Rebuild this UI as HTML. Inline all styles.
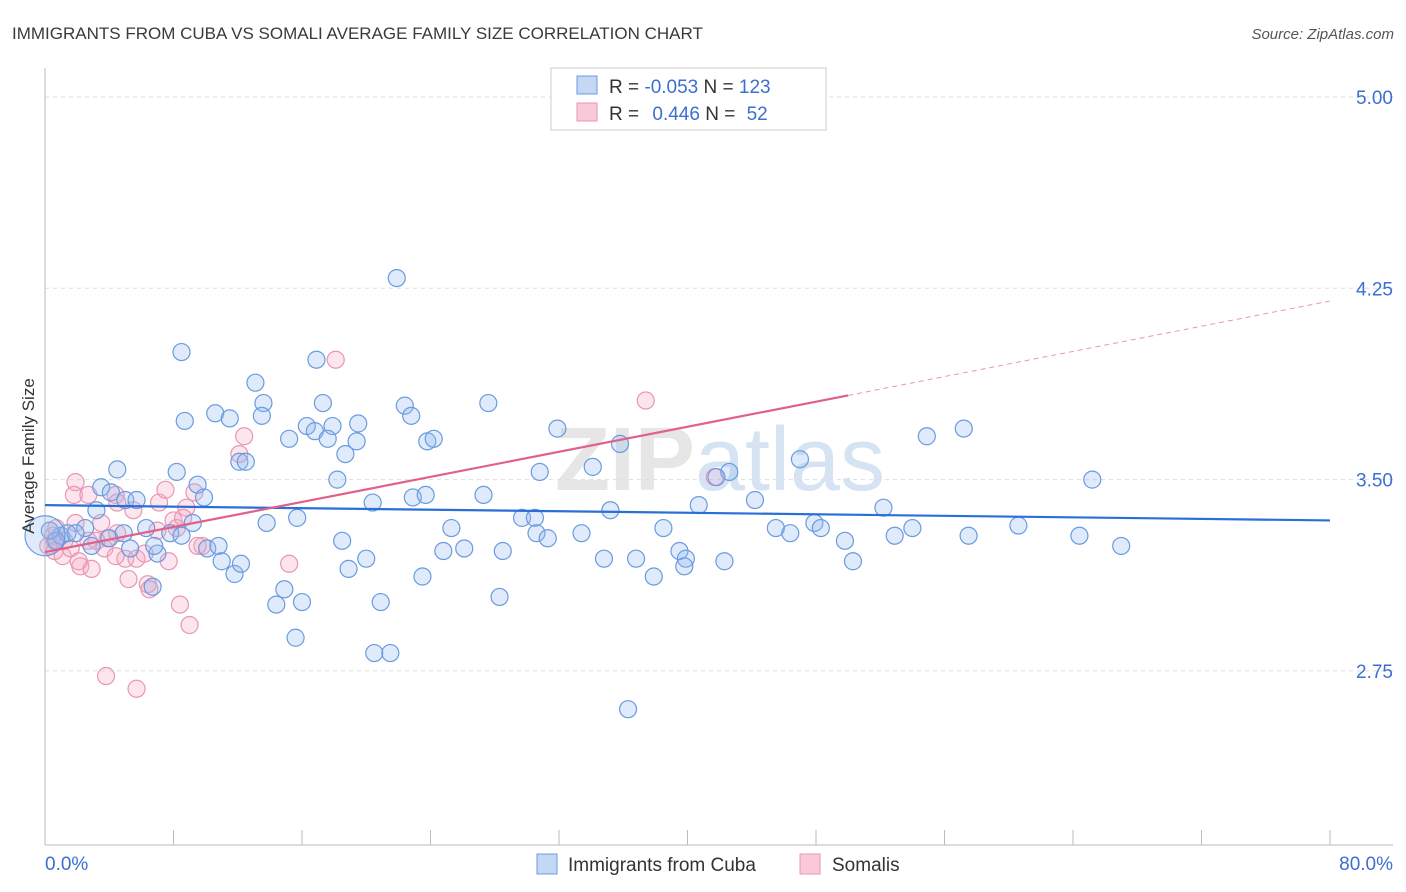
<!DOCTYPE html>
<html><head><meta charset="utf-8"><style>
body{margin:0;background:#fff;font-family:"Liberation Sans",sans-serif;}
svg{display:block}
</style></head><body>
<svg id="chart" width="1406" height="892" xmlns="http://www.w3.org/2000/svg">
<text x="12" y="39" font-size="17" fill="#3a3a3a">IMMIGRANTS FROM CUBA VS SOMALI AVERAGE FAMILY SIZE CORRELATION CHART</text>
<text x="1394" y="39" font-size="15" fill="#555" font-style="italic" text-anchor="end">Source: ZipAtlas.com</text>
<text x="720" y="490" font-size="90" fill="#e6e6e6" text-anchor="middle" font-weight="bold">ZIP<tspan fill="#d5e3f3" font-weight="normal">atlas</tspan></text>
<g id="grid"></g>
<g id="axes"></g>
<g id="pts"></g>
<g id="trends"></g>
<text transform="translate(34,456) rotate(-90)" font-size="17" fill="#333" text-anchor="middle">Average Family Size</text>
<g>
<rect x="551" y="68" width="275" height="62" fill="#fff" stroke="#ccc"/>
<rect x="577" y="76" width="20" height="18" fill="#c4d7f5" stroke="#6a9be0"/>
<rect x="577" y="103" width="20" height="18" fill="#f8c9d8" stroke="#e896b4"/>
<text x="609" y="93" font-size="19" fill="#333">R = <tspan fill="#3b6fd0">-0.053</tspan>   N = <tspan fill="#3b6fd0">123</tspan></text>
<text x="609" y="120" font-size="19" fill="#333">R =  <tspan fill="#3b6fd0" dx="8">0.446</tspan>   N =  <tspan fill="#3b6fd0" dx="6">52</tspan></text>
</g>
<g>
<rect x="537" y="854" width="20" height="20" fill="#c4d7f5" stroke="#6a9be0"/>
<text x="568" y="871" font-size="19" fill="#333">Immigrants from Cuba</text>
<rect x="800" y="854" width="20" height="20" fill="#f8c9d8" stroke="#e896b4"/>
<text x="832" y="871" font-size="19" fill="#333">Somalis</text>
</g>
</svg>
<script>
const yTicks=[2.75,3.50,4.25,5.00];
const xTickLabels=["0.0%","80.0%"];
const cubaX=[21.9,8.5,16.9,13.1,8.7,10.6,11.5,13.6,13.5,17.3,16.3,15.2,16.8,17.9,17.6,19.5,19.4,18.7,22.4,22.8,23.8,24.2,27.6,31.9,35.8,30.8,34.1,42.6,41.8,47.0,54.9,57.2,65.2,4.5,8.2,9.5,12.1,12.5,3.5,4.1,5.0,3.2,5.7,9.9,18.2,20.4,22.9,23.7,27.3,35.2,40.7,44.2,52.2,4.0,2.5,1.0,1.4,1.9,0.7,0.3,4.9,6.3,7.8,9.2,13.8,15.7,18.5,20.0,18.9,23.5,24.8,26.1,25.3,28.5,29.7,30.5,30.6,31.3,33.4,34.8,36.8,37.9,38.5,39.5,39.9,39.8,42.3,45.5,46.4,47.9,48.3,49.8,50.3,52.9,54.0,57.5,60.6,64.4,67.0,2.9,5.3,7.0,6.8,10.1,10.8,11.0,11.8,12.2,14.9,16.0,14.4,6.7,15.6,20.9,20.5,21.5,28.3,36.3,8.5];
const cubaY=[4.29,4.00,3.97,3.88,3.73,3.76,3.74,3.80,3.75,3.80,3.71,3.66,3.69,3.71,3.66,3.72,3.65,3.60,3.79,3.75,3.65,3.66,3.80,3.70,3.64,3.53,3.55,3.53,3.51,3.58,3.67,3.70,3.50,3.54,3.53,3.48,3.57,3.57,3.47,3.45,3.42,3.38,3.42,3.43,3.50,3.41,3.43,3.44,3.44,3.38,3.40,3.42,3.39,3.27,3.31,3.28,3.29,3.29,3.26,3.30,3.29,3.31,3.29,3.33,3.33,3.35,3.26,3.19,3.15,3.12,3.22,3.23,3.31,3.22,3.35,3.35,3.29,3.27,3.29,3.19,3.19,3.12,3.31,3.22,3.19,3.16,3.18,3.31,3.29,3.33,3.31,3.26,3.18,3.28,3.31,3.28,3.32,3.28,3.24,3.24,3.23,3.21,3.24,3.23,3.24,3.18,3.13,3.17,3.07,3.02,3.01,3.08,2.88,3.02,2.82,2.82,3.04,2.60,3.28];
const somaliX=[18.1,37.4,12.4,12.1,41.7,1.9,1.8,2.7,4.4,4.5,7.1,7.5,9.3,8.8,5.5,3.5,1.9,0.5,0.7,0.2,0.6,1.1,1.6,2.7,3.7,5.0,5.7,6.2,3.9,8.0,8.2,9.8,9.5,7.7,2.2,2.9,5.2,6.4,8.4,9.0,3.8,5.7,15.2,4.4,7.0,3.2,8.6,1.2,0.6,2.1,4.5,6.5];
const somaliY=[3.97,3.81,3.67,3.60,3.51,3.49,3.44,3.44,3.44,3.41,3.41,3.46,3.45,3.39,3.38,3.33,3.33,3.28,3.31,3.24,3.22,3.20,3.23,3.26,3.23,3.19,3.19,3.21,3.27,3.34,3.31,3.24,3.24,3.18,3.16,3.15,3.11,3.09,3.01,2.93,2.73,2.68,3.17,3.20,3.30,3.26,3.35,3.26,3.26,3.18,3.29,3.07];
const cubaTrend=[3.40,3.34];
const somaliTrend=[3.216,3.83,4.20];
const somaliTrendX=[0,50,80];

const NS="http://www.w3.org/2000/svg";
const X0=45,X1=1330,Y5=97,PPU=255.07;
function sx(v){return X0+(X1-X0)*v/80;}
function sy(v){return Y5+(5-v)*PPU;}
function mk(tag,attrs,parent){const e=document.createElementNS(NS,tag);for(const k in attrs)e.setAttribute(k,attrs[k]);parent.appendChild(e);return e;}
const grid=document.getElementById('grid'),axes=document.getElementById('axes'),pts=document.getElementById('pts'),tr=document.getElementById('trends');
yTicks.forEach(t=>{
 const l=mk('line',{x1:X0,x2:1393,y1:sy(t),y2:sy(t),stroke:'#ddd','stroke-dasharray':'4,4'},grid);
 
 
 const tx=mk('text',{x:1393,y:sy(t)+7,'font-size':19,fill:'#3b6fd0','text-anchor':'end'},axes);
 tx.textContent=t.toFixed(2);
 
 
});
const ax=mk('line',{x1:X0,x2:1393,y1:845,y2:845,stroke:'#bbb'},axes);


const ay=mk('line',{x1:X0,x2:X0,y1:68,y2:845,stroke:'#bbb'},axes);


for(let i=0;i<=10;i++){
 const t=mk('line',{x1:sx(i*8),x2:sx(i*8),y1:830,y2:845,stroke:'#bbb'},axes);
 
 
}
[[0,'start',X0],[1,'end',1393]].forEach(([i,a,x])=>{
 const t=mk('text',{x:x,y:870,'font-size':19,fill:'#3b6fd0','text-anchor':a},axes);
 t.textContent=xTickLabels[i];
 
 
});
somaliX.forEach((v,i)=>{
 const c=mk('circle',{cx:sx(v),cy:sy(somaliY[i]),r:8.5,fill:'rgba(245,170,195,0.3)',stroke:'#e896b4','stroke-width':1.2},pts);
 
 
});
cubaX.forEach((v,i)=>{
 const c=mk('circle',{cx:sx(v),cy:sy(cubaY[i]),r:8.5,fill:'rgba(150,185,240,0.3)',stroke:'#6a9be0','stroke-width':1.2},pts);
 
 
});
const big=mk('circle',{cx:sx(0),cy:sy(3.28),r:20,fill:'rgba(150,185,240,0.3)',stroke:'#6a9be0','stroke-width':1.2},pts);


const bt=mk('line',{x1:sx(0),y1:sy(cubaTrend[0]),x2:sx(80),y2:sy(cubaTrend[1]),stroke:'#2a6fd6','stroke-width':2.2},tr);


const pt=mk('line',{x1:sx(somaliTrendX[0]),y1:sy(somaliTrend[0]),x2:sx(somaliTrendX[1]),y2:sy(somaliTrend[1]),stroke:'#e0608c','stroke-width':2.2},tr);


const pd=mk('line',{x1:sx(somaliTrendX[1]),y1:sy(somaliTrend[1]),x2:sx(somaliTrendX[2]),y2:sy(somaliTrend[2]),stroke:'#e896b4','stroke-width':1,'stroke-dasharray':'5,4'},tr);


</script>
</body></html>
